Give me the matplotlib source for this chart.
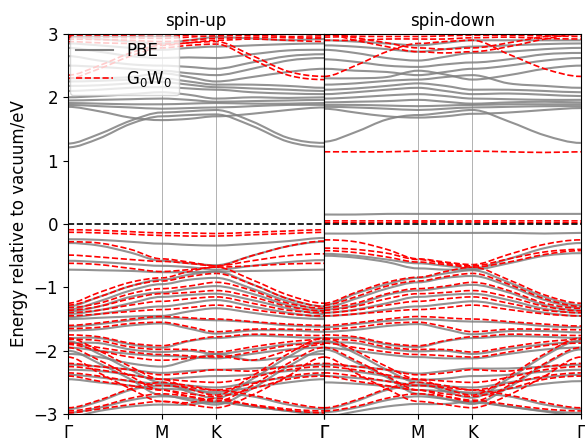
import numpy as np
import matplotlib
matplotlib.use("Agg")
import matplotlib.pyplot as plt
from matplotlib.path import Path
from matplotlib.patches import PathPatch

# k-path Γ-M-K-Γ (hexagonal cell, lengths in units of 2π/a)
k_nodes = [0.0, 0.192, 0.385, 0.577, 0.744, 0.911, 1.133, 1.355, 1.577]
k_ticks = [0.0, 0.577, 0.911, 1.577]
k_labels = ["Γ", "M", "K", "Γ"]
simetria = [0, 3, 5, 8]  # indices of Γ, M, K, Γ in k_nodes

# SPIN-UP, PBE
up_pbe = [
    [1.21, 1.35, 1.58, 1.70, 1.72, 1.73, 1.55, 1.30, 1.22],
    [1.27, 1.42, 1.63, 1.76, 1.78, 1.80, 1.62, 1.36, 1.28],
    [1.85, 1.78, 1.68, 1.64, 1.66, 1.70, 1.74, 1.80, 1.84],
    [1.88, 1.86, 1.84, 1.82, 1.83, 1.84, 1.86, 1.88, 1.88],
    [1.91, 1.90, 1.89, 1.89, 1.90, 1.91, 1.90, 1.90, 1.91],
    [1.95, 1.96, 1.97, 1.98, 1.96, 1.93, 1.94, 1.95, 1.96],
    [2.00, 2.02, 2.05, 2.08, 2.04, 1.98, 2.00, 1.99, 2.00],
    [2.10, 2.12, 2.15, 2.16, 2.14, 2.12, 2.08, 2.06, 2.05],
    [2.18, 2.19, 2.22, 2.24, 2.20, 2.16, 2.14, 2.12, 2.10],
    [2.25, 2.26, 2.28, 2.30, 2.25, 2.20, 2.20, 2.18, 2.15],
    [2.30, 2.30, 2.32, 2.38, 2.32, 2.25, 2.32, 2.40, 2.45],
    [2.50, 2.48, 2.45, 2.42, 2.38, 2.35, 2.45, 2.58, 2.62],
    [2.65, 2.58, 2.52, 2.50, 2.48, 2.45, 2.55, 2.65, 2.68],
    [2.78, 2.72, 2.65, 2.62, 2.63, 2.62, 2.68, 2.74, 2.75],
    [2.85, 2.82, 2.78, 2.75, 2.78, 2.80, 2.82, 2.84, 2.85],
    [2.95, 2.92, 2.88, 2.85, 2.90, 2.95, 2.93, 2.90, 2.92],
    [-0.24, -0.25, -0.28, -0.31, -0.33, -0.34, -0.31, -0.27, -0.22],
    [-0.30, -0.34, -0.45, -0.58, -0.62, -0.65, -0.50, -0.35, -0.28],
    [-0.58, -0.60, -0.63, -0.66, -0.68, -0.72, -0.66, -0.60, -0.57],
    [-0.72, -0.73, -0.74, -0.76, -0.76, -0.75, -0.74, -0.73, -0.72],
    [-1.30, -1.15, -0.98, -0.88, -0.80, -0.75, -0.95, -1.18, -1.30],
    [-1.35, -1.22, -1.05, -0.95, -0.88, -0.85, -1.02, -1.22, -1.35],
    [-1.38, -1.30, -1.15, -1.08, -1.02, -0.98, -1.10, -1.28, -1.38],
    [-1.42, -1.36, -1.25, -1.15, -1.12, -1.10, -1.20, -1.33, -1.42],
    [-1.47, -1.42, -1.35, -1.30, -1.25, -1.20, -1.30, -1.40, -1.46],
    [-1.50, -1.48, -1.46, -1.45, -1.38, -1.33, -1.40, -1.47, -1.50],
    [-1.62, -1.58, -1.52, -1.48, -1.50, -1.52, -1.55, -1.60, -1.62],
    [-1.68, -1.66, -1.60, -1.57, -1.65, -1.73, -1.68, -1.68, -1.70],
    [-1.80, -1.80, -1.90, -1.95, -1.85, -1.80, -1.76, -1.78, -1.80],
    [-1.88, -1.88, -1.98, -2.02, -2.00, -2.05, -1.98, -1.90, -1.87],
    [-1.95, -2.00, -2.05, -2.08, -2.10, -2.12, -2.05, -1.98, -1.95],
    [-2.05, -2.10, -2.20, -2.25, -2.15, -2.05, -2.15, -2.10, -2.05],
    [-2.22, -2.25, -2.30, -2.35, -2.32, -2.30, -2.28, -2.25, -2.22],
    [-2.30, -2.32, -2.38, -2.45, -2.42, -2.40, -2.38, -2.32, -2.30],
    [-2.38, -2.42, -2.48, -2.52, -2.55, -2.58, -2.50, -2.42, -2.38],
    [-2.45, -2.50, -2.55, -2.60, -2.62, -2.65, -2.58, -2.50, -2.45],
    [-2.92, -2.80, -2.62, -2.55, -2.60, -2.68, -2.72, -2.85, -2.92],
    [-2.98, -2.90, -2.78, -2.72, -2.75, -2.82, -2.88, -2.95, -2.98],
    [-3.05, -2.95, -2.88, -2.85, -2.85, -2.80, -2.88, -2.95, -3.02],
    [-2.00, -2.20, -2.45, -2.70, -2.78, -2.85, -2.60, -2.25, -2.00],
    [-1.85, -2.05, -2.30, -2.50, -2.65, -2.75, -2.45, -2.10, -1.85],
]

# SPIN-UP, G0W0
up_gw = [
    [2.30, 2.45, 2.65, 2.78, 2.82, 2.84, 2.60, 2.35, 2.28],
    [2.35, 2.50, 2.70, 2.82, 2.86, 2.88, 2.66, 2.41, 2.33],
    [2.88, 2.86, 2.85, 2.84, 2.86, 2.90, 2.92, 2.90, 2.88],
    [2.92, 2.91, 2.90, 2.88, 2.90, 2.93, 2.95, 2.94, 2.93],
    [2.95, 2.95, 2.94, 2.93, 2.95, 2.97, 2.98, 2.96, 2.95],
    [2.98, 2.98, 2.97, 2.96, 2.98, 3.00, 3.02, 3.00, 2.98],
    [-0.09, -0.10, -0.12, -0.14, -0.14, -0.15, -0.13, -0.11, -0.09],
    [-0.13, -0.14, -0.16, -0.18, -0.19, -0.19, -0.17, -0.15, -0.13],
    [-0.28, -0.30, -0.40, -0.55, -0.60, -0.66, -0.50, -0.35, -0.27],
    [-0.49, -0.52, -0.56, -0.59, -0.62, -0.66, -0.58, -0.50, -0.47],
    [-0.62, -0.64, -0.70, -0.75, -0.72, -0.68, -0.66, -0.63, -0.62],
    [-1.25, -1.08, -0.92, -0.85, -0.75, -0.68, -0.88, -1.12, -1.25],
    [-1.28, -1.15, -0.98, -0.90, -0.83, -0.78, -0.95, -1.18, -1.30],
    [-1.32, -1.25, -1.10, -1.02, -0.98, -0.92, -1.05, -1.25, -1.33],
    [-1.36, -1.30, -1.18, -1.10, -1.08, -1.05, -1.15, -1.30, -1.37],
    [-1.40, -1.36, -1.28, -1.22, -1.18, -1.15, -1.25, -1.36, -1.40],
    [-1.45, -1.42, -1.38, -1.35, -1.32, -1.28, -1.35, -1.42, -1.45],
    [-1.60, -1.56, -1.50, -1.46, -1.48, -1.50, -1.54, -1.58, -1.60],
    [-1.65, -1.63, -1.57, -1.55, -1.62, -1.70, -1.66, -1.66, -1.67],
    [-1.75, -1.78, -1.88, -1.92, -1.84, -1.78, -1.74, -1.75, -1.76],
    [-1.82, -1.84, -1.94, -1.98, -1.98, -2.02, -1.94, -1.86, -1.82],
    [-1.88, -1.95, -2.02, -2.06, -2.08, -2.10, -2.02, -1.92, -1.88],
    [-1.90, -2.00, -2.10, -2.15, -2.12, -2.08, -2.15, -2.00, -1.90],
    [-2.20, -2.25, -2.30, -2.38, -2.35, -2.30, -2.32, -2.25, -2.20],
    [-2.25, -2.30, -2.38, -2.45, -2.48, -2.50, -2.42, -2.30, -2.25],
    [-2.35, -2.40, -2.48, -2.55, -2.58, -2.62, -2.52, -2.40, -2.35],
    [-2.40, -2.48, -2.55, -2.62, -2.68, -2.72, -2.60, -2.45, -2.40],
    [-2.90, -2.78, -2.60, -2.50, -2.55, -2.62, -2.70, -2.82, -2.90],
    [-2.95, -2.88, -2.75, -2.68, -2.72, -2.78, -2.85, -2.92, -2.95],
    [-2.98, -2.92, -2.85, -2.80, -2.82, -2.75, -2.86, -2.94, -2.98],
    [-1.95, -2.15, -2.40, -2.62, -2.72, -2.80, -2.55, -2.20, -1.95],
    [-1.80, -2.00, -2.25, -2.45, -2.60, -2.70, -2.40, -2.05, -1.80],
    [-2.10, -2.35, -2.60, -2.80, -2.85, -2.90, -2.70, -2.40, -2.10],
]

# SPIN-DOWN, PBE
down_pbe = [
    [1.30, 1.45, 1.65, 1.72, 1.76, 1.80, 1.62, 1.40, 1.28],
    [1.82, 1.76, 1.70, 1.68, 1.70, 1.74, 1.76, 1.80, 1.83],
    [1.85, 1.84, 1.82, 1.80, 1.82, 1.84, 1.85, 1.86, 1.86],
    [1.88, 1.88, 1.87, 1.86, 1.87, 1.88, 1.89, 1.89, 1.89],
    [1.92, 1.93, 1.94, 1.96, 1.93, 1.90, 1.92, 1.93, 1.92],
    [1.98, 2.00, 2.03, 2.05, 2.02, 1.98, 1.97, 1.96, 1.96],
    [2.05, 2.08, 2.12, 2.15, 2.10, 2.05, 2.06, 2.04, 2.02],
    [2.12, 2.14, 2.18, 2.22, 2.18, 2.12, 2.12, 2.10, 2.08],
    [2.20, 2.22, 2.26, 2.28, 2.32, 2.35, 2.22, 2.18, 2.15],
    [2.30, 2.30, 2.32, 2.42, 2.36, 2.28, 2.35, 2.45, 2.50],
    [2.45, 2.42, 2.40, 2.35, 2.40, 2.45, 2.50, 2.58, 2.62],
    [2.60, 2.56, 2.50, 2.48, 2.52, 2.55, 2.60, 2.68, 2.70],
    [2.75, 2.70, 2.62, 2.58, 2.64, 2.70, 2.72, 2.76, 2.78],
    [2.82, 2.80, 2.76, 2.72, 2.76, 2.80, 2.82, 2.84, 2.85],
    [2.90, 2.88, 2.85, 2.82, 2.86, 2.90, 2.90, 2.90, 2.90],
    [0.15, 0.15, 0.16, 0.16, 0.16, 0.16, 0.16, 0.16, 0.16],
    [-0.15, -0.15, -0.14, -0.14, -0.14, -0.14, -0.14, -0.15, -0.14],
    [-0.47, -0.50, -0.56, -0.62, -0.66, -0.70, -0.55, -0.38, -0.30],
    [-0.50, -0.53, -0.60, -0.70, -0.72, -0.72, -0.62, -0.50, -0.46],
    [-1.28, -1.10, -0.95, -0.85, -0.78, -0.73, -0.92, -1.15, -1.28],
    [-1.32, -1.18, -1.02, -0.92, -0.85, -0.82, -0.98, -1.20, -1.32],
    [-1.35, -1.28, -1.12, -1.05, -1.00, -0.96, -1.08, -1.28, -1.36],
    [-1.40, -1.35, -1.25, -1.15, -1.12, -1.10, -1.20, -1.34, -1.40],
    [-1.45, -1.42, -1.35, -1.30, -1.26, -1.22, -1.30, -1.40, -1.45],
    [-1.63, -1.58, -1.53, -1.50, -1.52, -1.54, -1.56, -1.61, -1.63],
    [-1.70, -1.67, -1.61, -1.58, -1.66, -1.74, -1.69, -1.69, -1.71],
    [-1.80, -1.80, -1.90, -1.94, -1.85, -1.80, -1.77, -1.78, -1.80],
    [-1.87, -1.88, -1.97, -2.01, -2.00, -2.05, -1.97, -1.90, -1.86],
    [-1.95, -2.00, -2.06, -2.10, -2.12, -2.12, -2.05, -1.98, -1.95],
    [-2.22, -2.25, -2.30, -2.36, -2.32, -2.28, -2.28, -2.25, -2.22],
    [-2.30, -2.33, -2.40, -2.46, -2.44, -2.40, -2.38, -2.33, -2.30],
    [-2.40, -2.43, -2.48, -2.54, -2.56, -2.58, -2.50, -2.42, -2.38],
    [-2.50, -2.52, -2.56, -2.62, -2.64, -2.66, -2.60, -2.52, -2.48],
    [-2.92, -2.80, -2.62, -2.55, -2.60, -2.68, -2.72, -2.85, -2.92],
    [-2.97, -2.90, -2.78, -2.72, -2.76, -2.82, -2.88, -2.95, -2.98],
    [-1.98, -2.18, -2.42, -2.68, -2.76, -2.84, -2.58, -2.22, -1.98],
    [-1.84, -2.04, -2.30, -2.50, -2.64, -2.74, -2.44, -2.08, -1.84],
    [-3.04, -2.96, -2.88, -2.84, -2.84, -2.80, -2.88, -2.96, -3.02],
]

# SPIN-DOWN, G0W0
down_gw = [
    [1.14, 1.14, 1.14, 1.15, 1.15, 1.15, 1.14, 1.13, 1.14],
    [2.33, 2.50, 2.72, 2.85, 2.88, 2.90, 2.68, 2.45, 2.33],
    [3.00, 2.90, 2.80, 2.72, 2.70, 2.72, 2.80, 2.92, 3.00],
    [3.02, 2.94, 2.86, 2.78, 2.76, 2.78, 2.86, 2.96, 3.02],
    [2.90, 2.90, 2.92, 2.92, 2.92, 2.94, 2.95, 2.93, 2.92],
    [2.95, 2.96, 2.96, 2.96, 2.97, 2.98, 2.98, 2.97, 2.96],
    [2.98, 2.99, 3.00, 3.00, 3.00, 3.02, 3.02, 3.00, 2.99],
    [0.05, 0.05, 0.05, 0.05, 0.05, 0.05, 0.05, 0.05, 0.05],
    [0.02, 0.02, 0.02, 0.03, 0.03, 0.03, 0.02, 0.02, 0.02],
    [-0.25, -0.28, -0.40, -0.55, -0.60, -0.64, -0.48, -0.32, -0.25],
    [-0.38, -0.40, -0.46, -0.56, -0.62, -0.66, -0.55, -0.44, -0.40],
    [-0.42, -0.45, -0.52, -0.60, -0.64, -0.68, -0.60, -0.48, -0.42],
    [-1.25, -1.08, -0.92, -0.84, -0.75, -0.68, -0.88, -1.12, -1.25],
    [-1.28, -1.15, -0.98, -0.90, -0.83, -0.78, -0.95, -1.18, -1.30],
    [-1.32, -1.25, -1.10, -1.02, -0.98, -0.92, -1.05, -1.25, -1.33],
    [-1.36, -1.30, -1.18, -1.10, -1.08, -1.05, -1.15, -1.30, -1.37],
    [-1.40, -1.36, -1.28, -1.22, -1.18, -1.15, -1.25, -1.36, -1.40],
    [-1.45, -1.42, -1.38, -1.35, -1.32, -1.28, -1.35, -1.42, -1.45],
    [-1.60, -1.56, -1.50, -1.46, -1.48, -1.50, -1.54, -1.58, -1.61],
    [-1.66, -1.63, -1.57, -1.55, -1.62, -1.70, -1.66, -1.66, -1.67],
    [-1.75, -1.78, -1.88, -1.92, -1.84, -1.78, -1.74, -1.75, -1.76],
    [-1.82, -1.84, -1.94, -1.98, -1.98, -2.02, -1.94, -1.86, -1.82],
    [-1.88, -1.95, -2.02, -2.06, -2.08, -2.10, -2.02, -1.92, -1.88],
    [-2.20, -2.25, -2.30, -2.38, -2.35, -2.30, -2.32, -2.25, -2.20],
    [-2.25, -2.30, -2.38, -2.45, -2.48, -2.50, -2.42, -2.30, -2.25],
    [-2.35, -2.40, -2.48, -2.55, -2.58, -2.62, -2.52, -2.40, -2.35],
    [-2.40, -2.48, -2.55, -2.62, -2.68, -2.72, -2.60, -2.45, -2.40],
    [-2.90, -2.78, -2.60, -2.50, -2.55, -2.62, -2.70, -2.82, -2.90],
    [-2.95, -2.88, -2.75, -2.68, -2.72, -2.78, -2.85, -2.92, -2.95],
    [-1.95, -2.15, -2.40, -2.62, -2.72, -2.80, -2.55, -2.20, -1.95],
    [-1.80, -2.00, -2.25, -2.45, -2.60, -2.70, -2.40, -2.05, -1.80],
    [-2.10, -2.35, -2.60, -2.80, -2.85, -2.90, -2.70, -2.40, -2.10],
]


# BANDA COMO CURVA BEZIER (pendiente cero en los puntos de alta simetria)
def curvaSuave(x, y):
    x = np.asarray(x, dtype=float)
    y = np.asarray(y, dtype=float)
    n = len(x)
    m = np.zeros(n)
    for i in range(1, n - 1):
        m[i] = (y[i + 1] - y[i - 1]) / (x[i + 1] - x[i - 1])
    m[simetria] = 0.0
    verts = [(x[0], y[0])]
    codes = [Path.MOVETO]
    for i in range(n - 1):
        h = x[i + 1] - x[i]
        verts += [(x[i] + h / 3, y[i] + m[i] * h / 3),
                  (x[i + 1] - h / 3, y[i + 1] - m[i + 1] * h / 3),
                  (x[i + 1], y[i + 1])]
        codes += [Path.CURVE4] * 3
    return Path(verts, codes)


def dibujarBandas(ax, pbe, gw, titulo):
    for banda in pbe:
        ax.add_patch(PathPatch(curvaSuave(k_nodes, banda), fill=False,
                               edgecolor="gray", lw=1.5, alpha=0.85))
    for banda in gw:
        ax.add_patch(PathPatch(curvaSuave(k_nodes, banda), fill=False,
                               edgecolor="red", lw=1.2, ls="--"))
    for k in k_ticks[1:-1]:
        ax.axvline(k, color="gray", lw=0.6, alpha=0.7)
    ax.axhline(0, color="black", lw=1.2, ls="--")
    ax.set_xlim(k_ticks[0], k_ticks[-1])
    ax.set_ylim(-3, 3)
    ax.set_xticks(k_ticks)
    ax.set_xticklabels(k_labels, fontsize=12)
    ax.set_title(titulo, fontsize=12)


fig = plt.figure(figsize=(5.85, 4.41), dpi=100)
ax1 = fig.add_axes([0.116, 0.061, 0.438, 0.862])
ax2 = fig.add_axes([0.554, 0.061, 0.439, 0.862], sharey=ax1)

dibujarBandas(ax1, up_pbe, up_gw, "spin-up")
dibujarBandas(ax2, down_pbe, down_gw, "spin-down")

ax1.set_yticks([-3, -2, -1, 0, 1, 2, 3])
ax1.tick_params(axis="y", labelsize=12)
ax2.tick_params(axis="y", left=False, labelleft=False)
ax1.set_ylabel("Energy relative to vacuum/eV", fontsize=12)

ax1.plot([], [], color="gray", lw=1.5, label="PBE")
ax1.plot([], [], color="red", lw=1.2, ls="--", label="G$_0$W$_0$")
ax1.legend(loc="upper left", fontsize=12, framealpha=0.8,
           borderaxespad=0.1, handlelength=2.2)

fig.savefig("out.png", dpi=100)
